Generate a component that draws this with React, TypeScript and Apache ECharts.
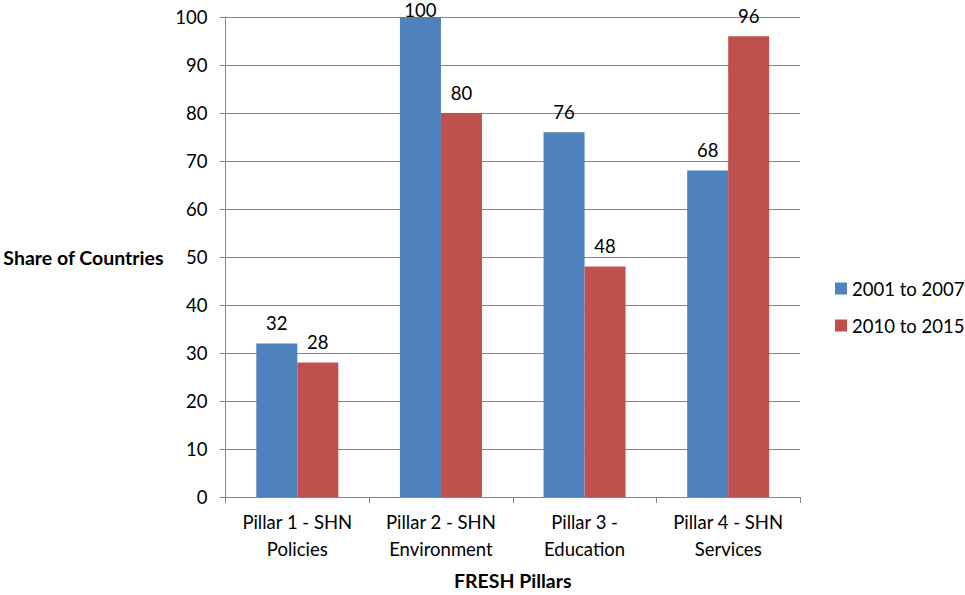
import React, { useEffect, useRef } from "react";
import * as echarts from "echarts";

const categories = ["Pillar 1 - SHN\nPolicies", "Pillar 2 - SHN\nEnvironment", "Pillar 3 -\nEducation", "Pillar 4 - SHN\nServices"];
const series2001 = [32, 100, 76, 68];
const series2010 = [28, 80, 48, 96];
const seriesNames = ["2001 to 2007", "2010 to 2015"];
const colors = ["#4F81BD", "#C0504D"];

const FONT = "Lato, 'Open Sans', sans-serif";

function toData(values: number[]) {
  return values.map((v) =>
    v >= 100 ? { value: v, label: { distance: -2 } } : { value: v }
  );
}

export default function App() {
  const ref = useRef<HTMLDivElement>(null);
  useEffect(() => {
    const chart = echarts.init(ref.current!, null, { renderer: "svg" });
    const labelCfg = {
      show: true,
      position: "top",
      distance: 11,
      color: "#000",
      fontSize: 18.5,
      fontFamily: FONT,
    };
    chart.setOption({
      animation: false,
      backgroundColor: "#fff",
      textStyle: { fontFamily: FONT },
      grid: { left: 224, right: 165, top: 17, bottom: 87, containLabel: false },
      legend: {
        orient: "vertical",
        left: 830,
        top: 274,
        itemWidth: 12,
        itemHeight: 12,
        itemGap: 18,
        icon: "rect",
        textStyle: { fontSize: 18.5, color: "#000", fontFamily: FONT },
        data: seriesNames,
      },
      xAxis: {
        type: "category",
        data: categories,
        name: "FRESH Pillars",
        nameLocation: "middle",
        nameGap: 73,
        nameTextStyle: { fontSize: 19.5, fontWeight: "bold", color: "#000", fontFamily: FONT },
        axisLine: { lineStyle: { color: "#868686", width: 1 } },
        axisTick: { show: true, length: 6, lineStyle: { color: "#868686" } },
        axisLabel: { fontSize: 18.5, color: "#000", lineHeight: 27, margin: 11, fontFamily: FONT, interval: 0 },
      },
      yAxis: {
        type: "value",
        min: 0,
        max: 100,
        interval: 10,
        name: "Share of Countries",
        nameLocation: "middle",
        nameRotate: 0,
        nameGap: 62,
        nameTextStyle: { fontSize: 19.5, fontWeight: "bold", color: "#000", fontFamily: FONT, align: "right" },
        axisLine: { show: true, lineStyle: { color: "#868686", width: 1 } },
        axisTick: { show: true, length: 6, lineStyle: { color: "#868686" } },
        axisLabel: { fontSize: 18.5, color: "#000", margin: 18, fontFamily: FONT },
        splitLine: { lineStyle: { color: "#868686", width: 1 } },
      },
      series: [
        {
          name: seriesNames[0],
          type: "bar",
          data: toData(series2001),
          barWidth: 41,
          barGap: "0%",
          itemStyle: { color: colors[0] },
          label: labelCfg,
        },
        {
          name: seriesNames[1],
          type: "bar",
          data: toData(series2010),
          barWidth: 41,
          barGap: "0%",
          itemStyle: { color: colors[1] },
          label: labelCfg,
        },
      ],
    });
    return () => chart.dispose();
  }, []);
  return (
    <div
      ref={ref}
      style={{ position: "fixed", left: 0, top: 0, width: 965, height: 595 }}
    />
  );
}
